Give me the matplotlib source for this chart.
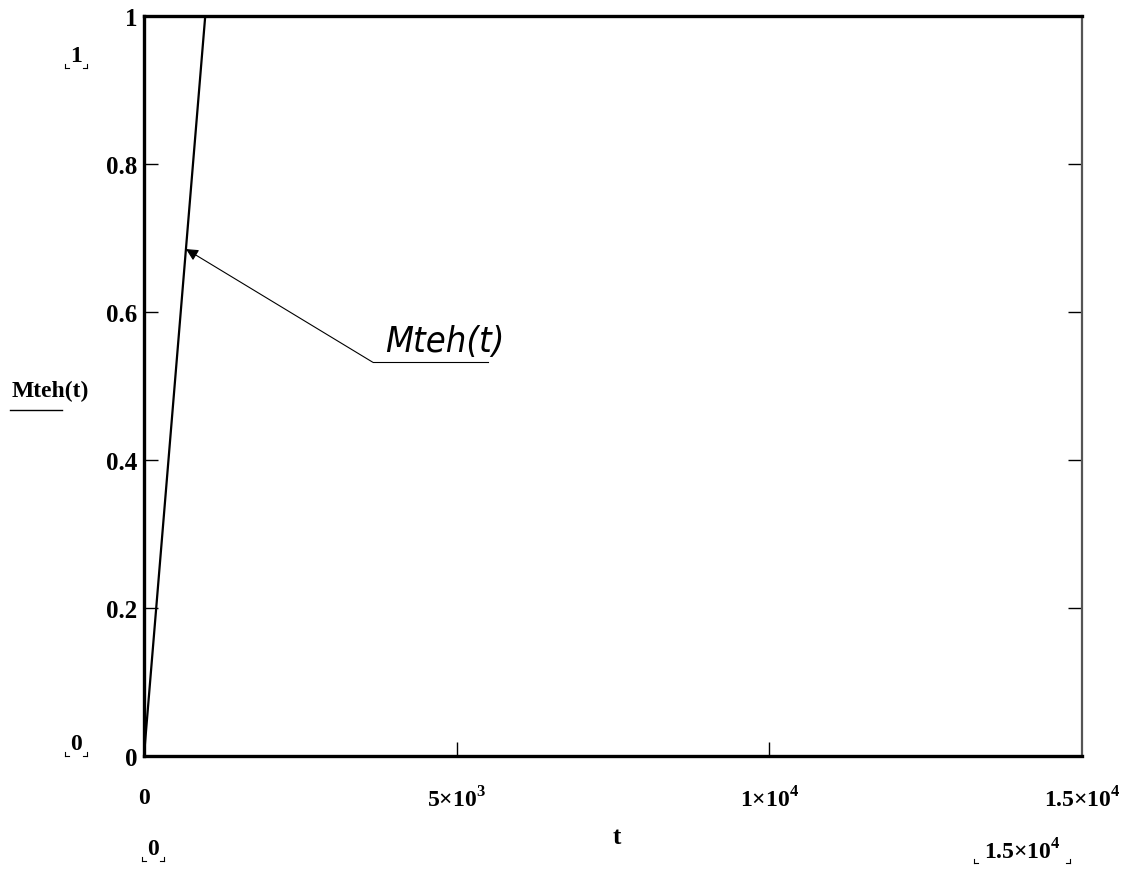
import numpy as np
import matplotlib
matplotlib.use("Agg")
import matplotlib.pyplot as plt
from matplotlib.lines import Line2D

# curve values
t_vals = [0, 980]
m_vals = [0.0, 1.0]

x_ticks = [0, 5000, 10000, 15000]
x_labels = ["0", r"5$\times$10$^{3}$", r"1$\times$10$^{4}$", r"1.5$\times$10$^{4}$"]
y_ticks = [0, 0.2, 0.4, 0.6, 0.8, 1.0]
y_labels = ["0", "0.2", "0.4", "0.6", "0.8", "1"]

serif = dict(family="Liberation Serif", weight="bold")
plt.rcParams["mathtext.fontset"] = "custom"
plt.rcParams["mathtext.rm"] = "Liberation Serif:bold"

fig = plt.figure(figsize=(11.38, 8.7), dpi=100)
ax = fig.add_axes([0.1265, 0.1299, 0.8243, 0.8506])

ax.plot(t_vals, m_vals, color="black", lw=1.6)
ax.set_xlim(0, 15000)
ax.set_ylim(0, 1)

ax.set_xticks(x_ticks)
ax.set_xticklabels(x_labels, fontdict=serif, fontsize=17)
ax.set_yticks(y_ticks)
ax.set_yticklabels(y_labels, fontdict=serif, fontsize=18)
ax.tick_params(direction="in", length=10, width=1, right=True, top=False,
               pad=5)
ax.tick_params(axis="x", pad=22)

for side in ["left", "bottom", "top"]:
    ax.spines[side].set_linewidth(2.4)
    ax.spines[side].set_color("black")
ax.spines["right"].set_linewidth(1.6)
ax.spines["right"].set_color("#555555")

# hide the first/last tick marks that sit on the frame
for tk in [ax.xaxis.get_major_ticks()[0], ax.xaxis.get_major_ticks()[-1]]:
    tk.tick1line.set_visible(False)
for tk in [ax.yaxis.get_major_ticks()[0], ax.yaxis.get_major_ticks()[-1]]:
    tk.tick1line.set_visible(False)
    tk.tick2line.set_visible(False)

# axis titles, Mathcad style
fig.text(617 / 1138, 1 - 838 / 870, "t", ha="center", va="center",
         fontsize=18, **serif)
fig.text(12 / 1138, 1 - 391 / 870, "Mteh(t)", ha="left", va="center",
         fontsize=17, **serif)
fig.add_artist(Line2D([10 / 1138, 62 / 1138], [1 - 411 / 870, 1 - 411 / 870],
                      color="black", lw=1))


def limit_label(x, y, text, w):
    fig.text(x / 1138, 1 - y / 870, text, ha="center", va="center",
             fontsize=17, **serif)
    yb = 1 - (y + 12) / 870
    for xe, d in [(x - w / 2, 4), (x + w / 2, -4)]:
        fig.add_artist(Line2D([xe / 1138, xe / 1138], [yb, yb + 4 / 870],
                              color="black", lw=0.8))
        fig.add_artist(Line2D([xe / 1138, (xe + d) / 1138], [yb, yb],
                              color="black", lw=0.8))


limit_label(76, 57, "1", 22)
limit_label(76, 745, "0", 22)
limit_label(153, 850, "0", 22)
limit_label(1022, 852, r"1.5$\times$10$^{4}$", 96)

# callout for the curve
ax.annotate("", xy=(672, 0.685), xytext=(3660, 0.532),
            arrowprops=dict(arrowstyle="-|>", color="black", lw=0.8,
                            mutation_scale=18, shrinkA=0, shrinkB=0))
ax.plot([3660, 5500], [0.532, 0.532], color="black", lw=0.8)
ax.text(3850, 0.538, "Mteh(t)", ha="left", va="bottom", fontsize=26,
        family="DejaVu Sans", stretch="condensed", style="italic",
        weight="light")

fig.savefig("out.png", dpi=100)
